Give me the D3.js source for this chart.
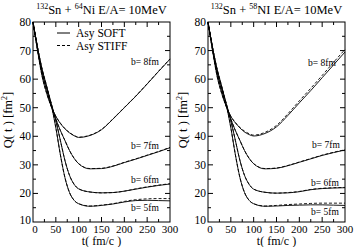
<!DOCTYPE html>
<html>
<head>
<meta charset="utf-8">
<script src="https://cdn.jsdelivr.net/npm/d3@7"></script>
<style>
  body { margin: 0; background: #fff; }
  svg { display: block; }
  text { font-family: "Liberation Serif", "DejaVu Serif", serif; fill: #000; }
</style>
</head>
<body>
<svg id="chart"></svg>
<script>
var W = 355, H = 247;

// time grid (fm/c)
var times = [0, 10, 20, 30, 40, 50, 60, 70, 80, 90, 100, 125, 150, 175, 200, 225, 250, 275, 300];

// 132Sn + 64Ni, Q(t) in fm^2
var ni64Soft = {
  b8: [80, 70, 61, 55, 50.5, 47, 44.5, 42.6, 41.2, 40.2, 39.6, 40.3, 42.3, 46, 50, 54, 58.3, 62.7, 67],
  b7: [80, 70.5, 62, 56, 50.5, 46, 42, 38.5, 35, 32.3, 30.4, 28.6, 28.7, 29.5, 30.8, 32, 33.3, 34.6, 36],
  b6: [80, 71, 63, 57, 51.5, 45.5, 38.5, 31.5, 26.3, 23.2, 21.6, 20.5, 20.2, 20.3, 20.8, 21.5, 22.2, 22.8, 23.3],
  b5: [80, 71, 63.5, 57.5, 51, 43, 33.5, 25.5, 20.3, 17.6, 16.4, 15.5, 15.8, 16.3, 17, 17.5, 17.6, 17.5, 17.4]
};
var ni64Stiff = {
  b8: [80, 70, 61, 55, 50.5, 47, 44.6, 42.7, 41.3, 40.3, 39.7, 40.4, 42.4, 46.1, 50.1, 54.1, 58.4, 62.8, 67.1],
  b7: [80, 70.5, 62, 56, 50.5, 46, 42, 38.5, 35, 32.3, 30.4, 28.7, 28.8, 29.6, 30.9, 32.1, 33.4, 34.7, 36.1],
  b6: [80, 71, 63, 57, 51.5, 45.5, 38.5, 31.5, 26.3, 23.2, 21.6, 20.5, 20.2, 20.3, 20.8, 21.6, 22.3, 22.9, 23.4],
  b5: [80, 71, 63.5, 57.5, 51, 43, 33.5, 25.5, 20.3, 17.6, 16.4, 15.6, 15.9, 16.4, 17.2, 17.8, 18.1, 18.2, 18.2]
};

// 132Sn + 58Ni
var ni58Soft = {
  b8: [80, 70, 61, 55, 50.5, 47, 44.7, 42.9, 41.5, 40.6, 40.1, 41, 43.3, 47.3, 51.7, 56, 60.5, 65, 69.5],
  b7: [80, 70.5, 62, 56, 50.5, 46, 42, 38.5, 35, 32.3, 30.4, 28.6, 28.8, 29.7, 30.9, 32.1, 33.3, 34.3, 35.2],
  b6: [80, 71, 63, 57, 51.5, 45.5, 38.5, 31.5, 26.3, 23.2, 21.5, 20.4, 20.1, 20.2, 20.6, 21.3, 21.7, 21.9, 22],
  b5: [80, 71, 63.5, 57.5, 51, 43, 33.5, 25.5, 20.3, 17.6, 16.4, 15.5, 15.6, 15.8, 15.9, 16, 16, 15.9, 15.8]
};
var ni58Stiff = {
  b8: [80, 70, 61, 55, 50.5, 47, 44.8, 43.1, 41.8, 40.9, 40.4, 41.4, 43.8, 47.9, 52.4, 56.8, 61.3, 65.9, 70.4],
  b7: [80, 70.5, 62, 56, 50.5, 46, 42, 38.5, 35, 32.3, 30.4, 28.7, 28.9, 29.8, 31, 32.2, 33.4, 34.4, 35.3],
  b6: [80, 71, 63, 57, 51.5, 45.5, 38.5, 31.5, 26.3, 23.2, 21.5, 20.4, 20.1, 20.3, 20.7, 21.4, 21.8, 22, 22.1],
  b5: [80, 71, 63.5, 57.5, 51, 43, 33.5, 25.5, 20.3, 17.6, 16.4, 15.6, 15.8, 16.1, 16.3, 16.5, 16.6, 16.6, 16.6]
};

var xTicks = [0, 50, 100, 150, 200, 250, 300];
var yTicks = [10, 20, 30, 40, 50, 60, 70, 80];
var bLabels = [
  { key: "b8", text: "b= 8fm" },
  { key: "b7", text: "b= 7fm" },
  { key: "b6", text: "b= 6fm" },
  { key: "b5", text: "b= 5fm" }
];

var svg = d3.select("#chart").attr("width", W).attr("height", H);

function drawPanel(opt) {
  var x = d3.scaleLinear().domain([0, 300]).range([opt.x0, opt.x1]);
  var y = d3.scaleLinear().domain([10, 80]).range([222, 22]);
  var g = svg.append("g");

  // frame
  g.append("rect")
    .attr("x", x(0)).attr("y", y(80))
    .attr("width", x(300) - x(0)).attr("height", y(10) - y(80))
    .attr("fill", "none").attr("stroke", "#000").attr("stroke-width", 1);

  // ticks, inward on all sides
  var xMinor = d3.range(25, 300, 50);
  var yMinor = d3.range(15, 80, 10);
  function tickX(vals, len) {
    vals.forEach(function (v) {
      g.append("line").attr("x1", x(v)).attr("x2", x(v))
        .attr("y1", y(10)).attr("y2", y(10) - len).attr("stroke", "#000");
      g.append("line").attr("x1", x(v)).attr("x2", x(v))
        .attr("y1", y(80)).attr("y2", y(80) + len).attr("stroke", "#000");
    });
  }
  function tickY(vals, len) {
    vals.forEach(function (v) {
      g.append("line").attr("x1", x(0)).attr("x2", x(0) + len)
        .attr("y1", y(v)).attr("y2", y(v)).attr("stroke", "#000");
      g.append("line").attr("x1", x(300)).attr("x2", x(300) - len)
        .attr("y1", y(v)).attr("y2", y(v)).attr("stroke", "#000");
    });
  }
  tickX(xTicks.slice(1, -1), 5);
  tickX(xMinor, 3);
  tickY(yTicks.slice(1, -1), 5);
  tickY(yMinor, 3);

  g.selectAll(".xl").data(xTicks).enter().append("text")
    .attr("x", function (d) { return x(d) + (d === 0 ? 2 : 0); })
    .attr("y", y(10) + 11)
    .attr("text-anchor", "middle").attr("font-size", 11)
    .text(function (d) { return d; });
  g.selectAll(".yl").data(yTicks).enter().append("text")
    .attr("x", x(0) - 2)
    .attr("y", function (d) { return y(d) + 4 - (d === 10 ? 2 : 0); })
    .attr("text-anchor", "end").attr("font-size", 11.5)
    .text(function (d) { return d; });

  // axis titles
  g.append("text")
    .attr("x", (x(0) + x(300)) / 2).attr("y", 244.5)
    .attr("text-anchor", "middle").attr("font-size", 12)
    .text("t( fm/c )");
  var yt = g.append("text")
    .attr("transform", "translate(" + (x(0) - 21) + "," + 120 + ") rotate(-90)")
    .attr("text-anchor", "middle").attr("font-size", 12.5);
  yt.append("tspan").text("Q( t )  [fm");
  yt.append("tspan").attr("dy", -5).attr("font-size", 8).text("2");
  yt.append("tspan").attr("dy", 5).text("]");

  // title
  var tt = g.append("text")
    .attr("x", (x(0) + x(300)) / 2).attr("y", 14)
    .attr("text-anchor", "middle").attr("font-size", 12.5);
  tt.append("tspan").attr("dy", -5).attr("font-size", 8).text("132");
  tt.append("tspan").attr("dy", 5).text("Sn + ");
  tt.append("tspan").attr("dy", -5).attr("font-size", 8).text(opt.mass);
  tt.append("tspan").attr("dy", 5).text(opt.target + "  E/A= 10MeV");

  var line = d3.line()
    .x(function (d, i) { return x(times[i]); })
    .y(function (d) { return y(d); })
    .curve(d3.curveMonotoneX);

  bLabels.forEach(function (b) {
    g.append("path").attr("d", line(opt.stiff[b.key]))
      .attr("fill", "none").attr("stroke", "#000").attr("stroke-width", 0.9)
      .attr("stroke-dasharray", "3,2");
    g.append("path").attr("d", line(opt.soft[b.key]))
      .attr("fill", "none").attr("stroke", "#000").attr("stroke-width", 0.9);
  });

  opt.labelPos.forEach(function (p, i) {
    g.append("text")
      .attr("x", p[0]).attr("y", p[1])
      .attr("font-size", 9.5)
      .text(bLabels[i].text);
  });

  if (opt.legend) {
    var items = [["Asy SOFT", null], ["Asy STIFF", "3,2"]];
    items.forEach(function (it, i) {
      var ly = 33 + i * 12.5;
      g.append("line").attr("x1", 57).attr("x2", 70).attr("y1", ly).attr("y2", ly)
        .attr("stroke", "#000").attr("stroke-dasharray", it[1]);
      g.append("text").attr("x", 76).attr("y", ly + 4)
        .attr("font-size", 11.5).text(it[0]);
    });
  }
}

drawPanel({
  x0: 33, x1: 170, mass: "64", target: "Ni",
  soft: ni64Soft, stiff: ni64Stiff, legend: true,
  labelPos: [[131, 65], [131, 149], [131, 183], [131, 211]]
});
drawPanel({
  x0: 208, x1: 345, mass: "58", target: "NI",
  soft: ni58Soft, stiff: ni58Stiff, legend: false,
  labelPos: [[308, 66], [312, 148], [311, 186], [311, 215]]
});
</script>
</body>
</html>
